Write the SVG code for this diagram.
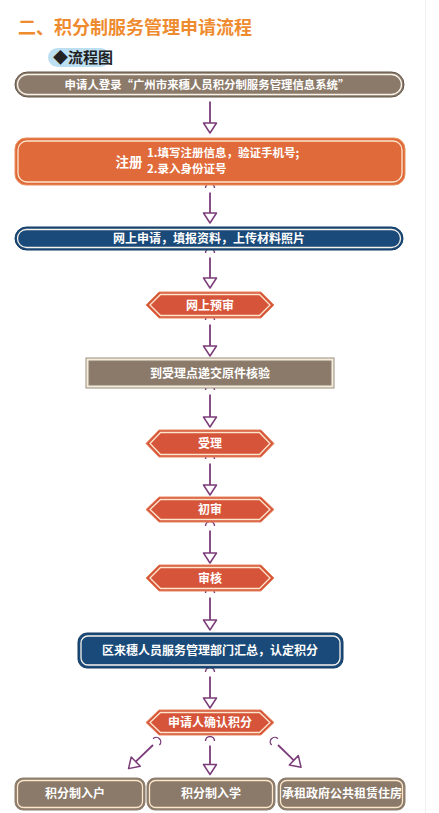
<svg xmlns="http://www.w3.org/2000/svg" width="439" height="813" viewBox="0 0 439 813">
<style>
text{font-family:"Noto Sans CJK SC","Noto Sans",sans-serif;font-weight:bold;}
.t{fill:#ffffff;font-size:12px;text-anchor:middle;}
.brown{fill:#8b7a69;stroke:#5f5449;stroke-width:1;}
.brownbox{fill:#8b7a69;stroke:#8f8070;stroke-width:1;}
.orange{fill:#e06a3a;stroke:#e9915f;stroke-width:1;}
.blue{fill:#1a4a79;stroke:#133b62;stroke-width:1;}
.hex{fill:#d6553a;stroke:#e88660;stroke-width:1;}
.inW{fill:none;stroke:#f7f2ea;stroke-width:1.3;}
.inC{fill:none;stroke:#fce6cc;stroke-width:1.3;}
.conn{fill:none;stroke:#7b3c79;stroke-width:1.8;stroke-linecap:butt;}
.cup{fill:none;stroke:#7b3c79;stroke-width:1.4;}
.tri{fill:#ffffff;stroke:#7b3c79;stroke-width:1.5;stroke-linejoin:round;}
</style>
<defs>
<g id="arrowhead"><path class="tri" d="M0,-6.5 L10,0 L0,6.5 Z"/></g>
<g id="cupshape"><path class="cup" d="M-4.5,-4.5 A4.5,4.5 0 0 0 -4.5,4.5"/></g>
</defs>
<rect width="439" height="813" fill="#ffffff"/>
<line x1="425.5" y1="0" x2="425.5" y2="813" stroke="#f0f0f0" stroke-width="1"/>

<g id="title">
<text x="18" y="34" style="font-size:18px;fill:#ef8b2f;">二、积分制服务管理申请流程</text>
</g>
<g id="subtitle">
<rect x="48" y="48" width="62" height="19" rx="9.5" fill="#bcdff2"/>
<text x="53" y="63" style="font-size:15px;fill:#222222;">◆流程图</text>
</g>

<g id="connectors">
<g transform="translate(210,101.5) rotate(90)"><path class="conn" d="M0,0 H21.5"/><use href="#cupshape"/><use href="#arrowhead" x="21.5"/></g>
<g transform="translate(210,192.5) rotate(90)"><path class="conn" d="M0,0 H20.5"/><use href="#cupshape"/><use href="#arrowhead" x="20.5"/></g>
<g transform="translate(210,257.5) rotate(90)"><path class="conn" d="M0,0 H20.5"/><use href="#cupshape"/><use href="#arrowhead" x="20.5"/></g>
<g transform="translate(210,324.5) rotate(90)"><path class="conn" d="M0,0 H21.5"/><use href="#cupshape"/><use href="#arrowhead" x="21.5"/></g>
<g transform="translate(210,394.5) rotate(90)"><path class="conn" d="M0,0 H22.5"/><use href="#cupshape"/><use href="#arrowhead" x="22.5"/></g>
<g transform="translate(210,463.5) rotate(90)"><path class="conn" d="M0,0 H21.5"/><use href="#cupshape"/><use href="#arrowhead" x="21.5"/></g>
<g transform="translate(210,530.5) rotate(90)"><path class="conn" d="M0,0 H22.5"/><use href="#cupshape"/><use href="#arrowhead" x="22.5"/></g>
<g transform="translate(210,597.5) rotate(90)"><path class="conn" d="M0,0 H22.5"/><use href="#cupshape"/><use href="#arrowhead" x="22.5"/></g>
<g transform="translate(210,676.5) rotate(90)"><path class="conn" d="M0,0 H21.5"/><use href="#cupshape"/><use href="#arrowhead" x="21.5"/></g>
<g transform="translate(210,745.5) rotate(90)"><path class="conn" d="M0,0 H19"/><use href="#cupshape"/><use href="#arrowhead" x="19"/></g>
<g transform="translate(153,745) rotate(136)"><path class="conn" d="M0,0 H24"/><use href="#cupshape"/><use href="#arrowhead" x="24"/></g>
<g transform="translate(278,745) rotate(44)"><path class="conn" d="M0,0 H22"/><use href="#cupshape"/><use href="#arrowhead" x="22"/></g>
</g>

<g id="n1">
<rect class="brown" x="15" y="72" width="389" height="25" rx="12.5"/>
<rect class="inW" x="17.5" y="74.5" width="384" height="20" rx="10"/>
<text class="t" x="207" y="88.8" style="font-size:11.4px;">申请人登录“广州市来穗人员积分制服务管理信息系统”</text>
</g>

<g id="n2">
<rect class="orange" x="15" y="138" width="390" height="47" rx="11"/>
<rect class="inC" x="18" y="141" width="384" height="41" rx="9"/>
<text x="129" y="167" style="font-size:13.5px;fill:#fff;text-anchor:middle;">注册</text>
<text x="147" y="157" style="font-size:11.5px;fill:#fff;">1.填写注册信息，验证手机号;</text>
<text x="147" y="173" style="font-size:11.5px;fill:#fff;">2.录入身份证号</text>
</g>

<g id="n3">
<rect class="blue" x="15" y="227" width="388" height="23" rx="11.5"/>
<rect class="inW" x="17.5" y="229.5" width="383" height="18" rx="9"/>
<text class="t" x="209" y="242.5">网上申请，填报资料，上传材料照片</text>
</g>

<g id="n4">
<polygon class="hex" points="146,305 159,292 261,292 274,305 261,318 159,318"/>
<polygon class="inC" points="150,305 160.5,294.5 259.5,294.5 270,305 259.5,315.5 160.5,315.5"/>
<text class="t" x="210" y="309.5">网上预审</text>
</g>

<g id="n5">
<rect x="86" y="358" width="248" height="30" fill="#f4ecdc" stroke="#9c8e7e" stroke-width="1"/>
<rect class="brownbox" x="89" y="361" width="242" height="24"/>
<text class="t" x="210" y="377.5">到受理点递交原件核验</text>
</g>

<g id="n6">
<polygon class="hex" points="146,443.5 159,430 261,430 274,443.5 261,457 159,457"/>
<polygon class="inC" points="150,443.5 160.5,432.5 259.5,432.5 270,443.5 259.5,454.5 160.5,454.5"/>
<text class="t" x="210" y="448">受理</text>
</g>

<g id="n7">
<polygon class="hex" points="146,509.5 159,497 261,497 274,509.5 261,522 159,522"/>
<polygon class="inC" points="150,509.5 160.5,499.5 259.5,499.5 270,509.5 259.5,519.5 160.5,519.5"/>
<text class="t" x="210" y="514">初审</text>
</g>

<g id="n8">
<polygon class="hex" points="146,578 159,565 261,565 274,578 261,591 159,591"/>
<polygon class="inC" points="150,578 160.5,567.5 259.5,567.5 270,578 259.5,588.5 160.5,588.5"/>
<text class="t" x="210" y="582.5">审核</text>
</g>

<g id="n9">
<rect class="blue" x="78" y="633" width="265" height="35" rx="9"/>
<rect class="inW" x="81" y="636" width="259" height="29" rx="7"/>
<text class="t" x="210" y="654.5">区来穗人员服务管理部门汇总，认定积分</text>
</g>

<g id="n10">
<polygon class="hex" points="146,722.5 159,710 261,710 274,722.5 261,735 159,735"/>
<polygon class="inC" points="150,722.5 160.5,712.5 259.5,712.5 270,722.5 259.5,732.5 160.5,732.5"/>
<text class="t" x="210" y="727">申请人确认积分</text>
</g>

<g id="n11">
<rect class="brownbox" x="15" y="778" width="130" height="32" rx="8"/>
<rect class="inC" x="17.5" y="780.5" width="125" height="27" rx="6"/>
<text class="t" x="75" y="798">积分制入户</text>
</g>
<g id="n12">
<rect class="brownbox" x="147" y="778" width="128" height="32" rx="8"/>
<rect class="inC" x="149.5" y="780.5" width="123" height="27" rx="6"/>
<text class="t" x="211" y="798">积分制入学</text>
</g>
<g id="n13">
<rect class="brownbox" x="278" y="778" width="127" height="32" rx="8"/>
<rect class="inC" x="280.5" y="780.5" width="122" height="27" rx="6"/>
<text class="t" x="342" y="798">承租政府公共租赁住房</text>
</g>
</svg>
